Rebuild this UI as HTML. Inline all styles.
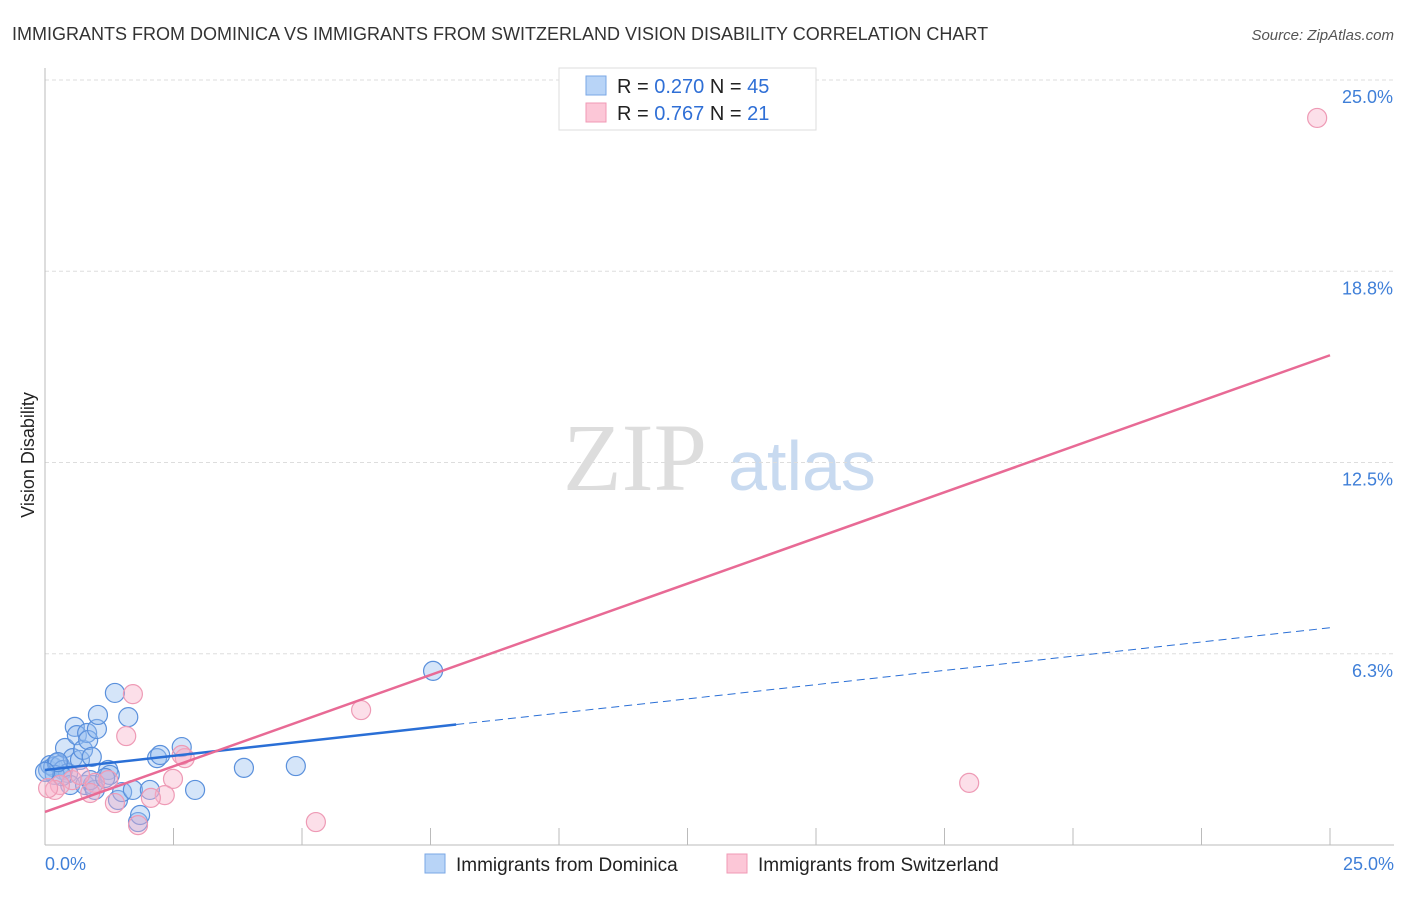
<!DOCTYPE html>
<html><head><meta charset="utf-8"><style>
body{margin:0;background:#fff;font-family:"Liberation Sans",sans-serif}
</style></head><body>
<svg id="c" width="1406" height="892" xmlns="http://www.w3.org/2000/svg" style="font-family:'Liberation Sans',sans-serif">
<text x="12" y="40" font-size="18" fill="#333">IMMIGRANTS FROM DOMINICA VS IMMIGRANTS FROM SWITZERLAND VISION DISABILITY CORRELATION CHART</text>
<text x="1394" y="40" font-size="15" fill="#555" font-style="italic" text-anchor="end">Source: ZipAtlas.com</text>
<text x="34" y="455" font-size="18" fill="#222" text-anchor="middle" transform="rotate(-90 34 455)">Vision Disability</text>
<g><text x="635" y="490" font-size="96" fill="#ddd" font-family="Liberation Serif,serif" text-anchor="middle">ZIP</text><text x="802" y="490" font-size="70" fill="#c8daf0" text-anchor="middle">atlas</text></g>
<g id="grid"></g><g id="axes"></g><g id="marks"></g>
<g>
<rect x="559" y="68" width="257" height="62" fill="#fff" stroke="#ddd"/>
<rect x="586" y="76" width="20" height="19" fill="#b8d4f7" stroke="#7aa7e6"/>
<rect x="586" y="103" width="20" height="19" fill="#fcc7d7" stroke="#f09ab5"/>
<text x="617" y="93" font-size="20" fill="#222">R = <tspan fill="#2f6fd6">0.270</tspan>   N = <tspan fill="#2f6fd6">45</tspan></text>
<text x="617" y="120" font-size="20" fill="#222">R =  <tspan fill="#2f6fd6">0.767</tspan>   N =  <tspan fill="#2f6fd6">21</tspan></text>
</g>
<g>
<rect x="425" y="854" width="20" height="19" fill="#b8d4f7" stroke="#7aa7e6"/>
<text x="456" y="871" font-size="19" fill="#222">Immigrants from Dominica</text>
<rect x="727" y="854" width="20" height="19" fill="#fcc7d7" stroke="#f09ab5"/>
<text x="758" y="871" font-size="19" fill="#222">Immigrants from Switzerland</text>
</g>
</svg>
<script>
const blueX=[0.06,0.1,0.16,0.23,0.29,0.35,0.39,0.45,0.49,0.54,0.58,0.62,0.68,0.74,0.78,0.82,0.84,0.91,0.93,0.97,1.01,1.03,1.23,1.26,1.36,1.42,1.5,1.62,1.71,1.81,1.85,2.04,2.18,2.24,2.66,2.92,3.87,4.88,7.55,0.19,0.33,0.25,0.88,1.17,0.0];
const blueY=[2.45,2.61,2.55,2.68,2.61,2.45,3.17,2.35,1.96,2.84,3.86,3.59,2.78,3.11,1.96,3.66,3.43,2.88,1.96,1.8,3.79,4.25,2.45,2.29,4.97,1.47,1.73,4.18,1.8,0.75,0.98,1.8,2.84,2.94,3.2,1.8,2.52,2.58,5.69,2.29,2.25,2.71,2.12,2.19,2.39];
const pinkX=[24.75,17.98,5.27,6.15,1.71,1.58,2.72,2.66,2.49,2.33,2.06,1.81,1.36,1.23,0.97,0.88,0.53,0.29,0.19,0.06,0.68];
const pinkY=[23.76,2.03,0.75,4.41,4.93,3.56,2.84,2.94,2.16,1.63,1.54,0.65,1.37,2.12,2.03,1.7,2.12,1.96,1.8,1.86,2.29];
const yTicks=[6.25,12.5,18.75,25];
const yTickLabels=["6.3%","12.5%","18.8%","25.0%"];
const xTicks=[0,2.5,5,7.5,10,12.5,15,17.5,20,22.5,25];
const blueFit=[2.45,0.186,8.0];
const pinkFit=[1.08,0.597];
const X=v=>45+v*51.4, Y=v=>845-v*30.6;
const NS="http://www.w3.org/2000/svg";
function mk(t,a,p){const e=document.createElementNS(NS,t);for(const k in a)e.setAttribute(k,a[k]);p.appendChild(e);return e;}
const grid=document.getElementById('grid'),axes=document.getElementById('axes'),marks=document.getElementById('marks');
yTicks.forEach((t,i)=>{
 const l=mk('line',{x1:45,x2:1394,y1:Y(t),y2:Y(t),stroke:'#ddd','stroke-dasharray':'4,3'},grid);
 
 
 const tx=mk('text',{x:1393,y:Y(t)+23,'font-size':18,fill:'#3f7fd8','text-anchor':'end'},axes);
 tx.textContent=yTickLabels[i];
 
 
});
const ax=mk('line',{x1:45,x2:1394,y1:845,y2:845,stroke:'#bbb'},axes);


const ay=mk('line',{x1:45,x2:45,y1:68,y2:845,stroke:'#bbb'},axes);


xTicks.forEach(t=>{const l=mk('line',{x1:X(t),x2:X(t),y1:828,y2:845,stroke:'#bbb'},axes);
 
 });
const x0=mk('text',{x:45,y:870,'font-size':18,fill:'#3f7fd8'},axes);x0.textContent="0.0%";


const x1=mk('text',{x:1394,y:870,'font-size':18,fill:'#3f7fd8','text-anchor':'end'},axes);x1.textContent="25.0%";


blueX.forEach((v,i)=>{const c=mk('circle',{cx:X(v),cy:Y(blueY[i]),r:9.5,fill:'rgba(150,190,240,0.4)',stroke:'#5a90dc','stroke-width':1.2},marks);
 
 });
pinkX.forEach((v,i)=>{const c=mk('circle',{cx:X(v),cy:Y(pinkY[i]),r:9.5,fill:'rgba(248,175,200,0.4)',stroke:'#ee9ab5','stroke-width':1.2},marks);
 
 });
const f=(p,x)=>p[0]+p[1]*x;
const bs=mk('line',{x1:X(0),y1:Y(f(blueFit,0)),x2:X(blueFit[2]),y2:Y(f(blueFit,blueFit[2])),stroke:'#2a6fd6','stroke-width':2.5},marks);


const bd=mk('line',{x1:X(blueFit[2]),y1:Y(f(blueFit,blueFit[2])),x2:X(25),y2:Y(f(blueFit,25)),stroke:'#2a6fd6','stroke-width':1,'stroke-dasharray':'8,5'},marks);


const pl=mk('line',{x1:X(0),y1:Y(f(pinkFit,0)),x2:X(25),y2:Y(f(pinkFit,25)),stroke:'#e86a95','stroke-width':2.5},marks);


</script>
</body></html>
